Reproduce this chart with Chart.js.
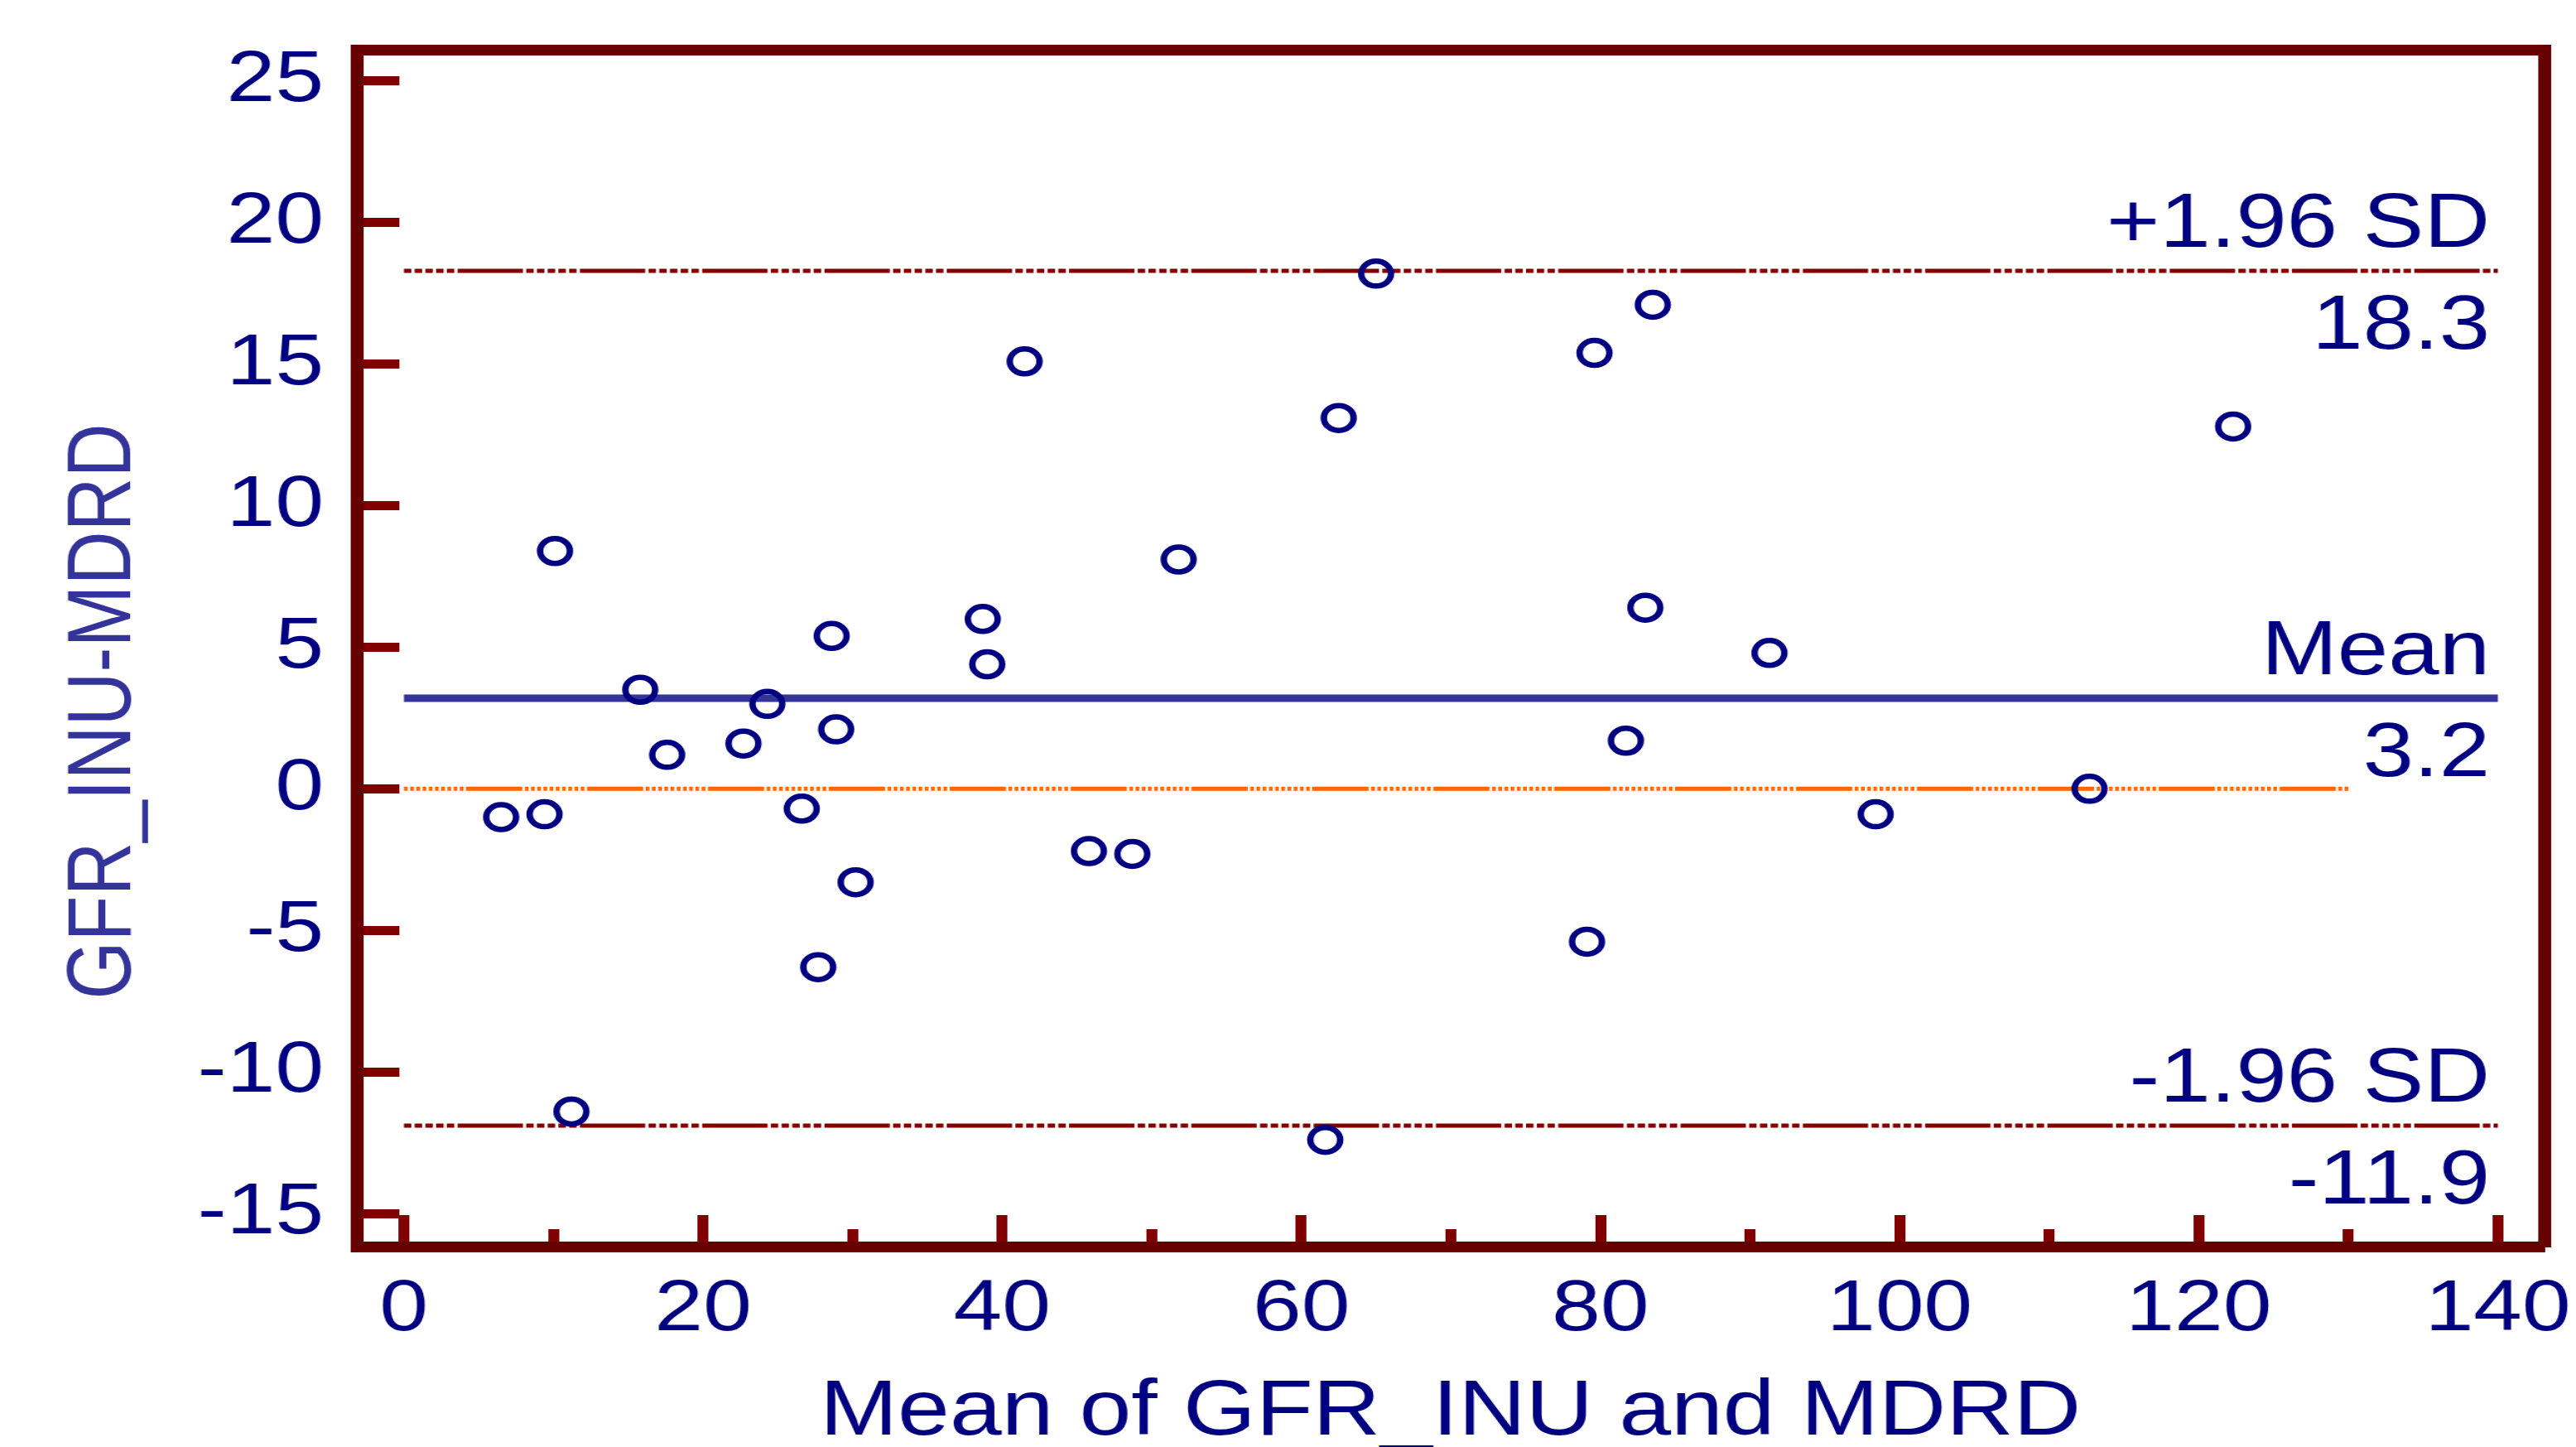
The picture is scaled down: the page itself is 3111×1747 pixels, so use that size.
<!DOCTYPE html>
<html><head><meta charset="utf-8">
<script src="https://cdn.jsdelivr.net/npm/chart.js@4/dist/chart.umd.min.js"></script>
<style>
html,body{margin:0;padding:0;background:#fff;overflow:hidden}
</style></head><body>
<canvas id="c" width="2593" height="1747" style="display:block;width:3111px;height:1747px"></canvas>
<script>
// ---- data ----
const meanValues = [6.5, 9.4, 10.1, 11.2, 15.8, 17.6, 22.7, 24.3, 26.6, 27.7, 28.6, 28.9, 30.2, 38.7, 39.0, 41.5, 45.8, 48.7, 51.8, 61.6, 62.5, 65.0, 79.1, 79.6, 81.7, 83.0, 83.5, 91.3, 98.4, 112.7, 122.3];
const diffValues = [-1.0, -0.9, 8.4, -11.4, 3.5, 1.2, 1.6, 3.0, -0.7, -6.3, 5.4, 2.1, -3.3, 6.0, 4.4, 15.1, -2.2, -2.3, 8.1, -12.4, 13.1, 18.2, -5.4, 15.4, 1.7, 6.4, 17.1, 4.8, -0.9, 0.0, 12.8];
const refNames = ['+1.96 SD', 'Mean', '-1.96 SD'];
const refValues = [18.3, 3.2, -11.9];
const refSpan = [0, 140];
const zeroSpan = [0, 130];
const xTickLabels = ['0', '20', '40', '60', '80', '100', '120', '140'];
const yTickLabels = ['-15', '-10', '-5', '0', '5', '10', '15', '20', '25'];
const xTitle = 'Mean of GFR_INU and MDRD';
const yTitle = 'GFR_INU-MDRD';

// ---- styling / layout ----
const FONT = '"Liberation Sans", Arial, Helvetica, sans-serif';
const NAVY = '#000080';
const FRAME = '#660000';
const TICK = '#800000';
const W = 2593, H = 1747;
const AREA_LEFT = 359, AREA_RIGHT = 2561, AREA_TOP = 60, AREA_BOTTOM = 1505, PAD_BOTTOM = 29;
const YTITLE_SIZE = 90, YTITLE_PAD = 52;
const YTITLE_BOX = YTITLE_SIZE * 1.2 + YTITLE_PAD;

const sdDash = [7.5,3.3,7.5,3.3,7.5,3.3,7.5,3.3,7.5,3.3,65.8,3.3];
const zeroDash = [3.75,2.5,3.75,2.5,3.75,2.5,3.75,2.5,3.75,2.5,3.75,2.5,3.75,2.5,3.75,2.5,3.75,2.5,3.75,2.5,56.7,2.5];

const lineColors = ['#800000', '#333399', '#800000'];
const lineWidths = [5, 9, 5];
const lineDashes = [sdDash, [], sdDash];

const datasets = [{
  type: 'scatter',
  label: 'differences',
  data: meanValues.map((m, i) => ({x: m, y: diffValues[i]})),
  pointStyle: 'circle',
  pointRadius: 15,
  pointHoverRadius: 15,
  pointBorderWidth: 6.5,
  borderColor: NAVY,
  backgroundColor: 'rgba(0,0,0,0)',
  order: 0
}];
refValues.forEach((v, i) => {
  datasets.push({
    type: 'line', label: refNames[i],
    data: refSpan.map(x => ({x, y: v})),
    borderColor: lineColors[i], borderWidth: lineWidths[i], borderDash: lineDashes[i],
    pointRadius: 0, fill: false, order: 2
  });
});
datasets.push({
  type: 'line', label: 'zero',
  data: zeroSpan.map(x => ({x, y: 0})),
  borderColor: '#FF6600', borderWidth: 5, borderDash: zeroDash,
  pointRadius: 0, fill: false, order: 3
});

const refLabelPlugin = {
  id: 'refLabels',
  afterDatasetsDraw(chart) {
    const {ctx, scales: {x, y}} = chart;
    ctx.save();
    ctx.font = '92px ' + FONT;
    ctx.fillStyle = NAVY;
    ctx.textAlign = 'right';
    ctx.textBaseline = 'alphabetic';
    const xr = x.getPixelForValue(refSpan[1]) - 8;
    refValues.forEach((v, i) => {
      const py = y.getPixelForValue(v);
      ctx.fillText(refNames[i], xr, py - 29);
      ctx.fillText(v.toFixed(1), xr, py + 94);
    });
    ctx.restore();
  }
};

function noPad(s) { s.paddingLeft = 0; s.paddingRight = 0; s.paddingTop = 0; s.paddingBottom = 0; }

const hiddenAxis = (pos, size) => ({
  type: 'linear', position: pos, display: true,
  min: 0, max: 1,
  ticks: {display: false},
  grid: {drawOnChartArea: false, drawTicks: false},
  border: {display: true, color: FRAME, width: 13},
  afterFit: (s) => { if (pos === 'top') s.height = size; else s.width = size; noPad(s); }
});

new Chart(document.getElementById('c'), {
  type: 'scatter',
  data: {datasets},
  plugins: [refLabelPlugin],
  options: {
    responsive: false,
    animation: false,
    devicePixelRatio: 1,
    layout: {padding: {left: 0, right: 0, top: 0, bottom: PAD_BOTTOM}},
    plugins: {
      legend: {display: false},
      tooltip: {enabled: false},
      title: {
        display: true, position: 'left', text: yTitle, color: '#333399',
        font: {family: FONT, size: YTITLE_SIZE, weight: 'normal', lineHeight: 1.2},
        padding: {top: YTITLE_PAD, bottom: 0}
      }
    },
    scales: {
      x: {
        type: 'linear', position: 'bottom',
        min: -3.16, max: 143.1,
        ticks: {
          stepSize: 10, includeBounds: false, autoSkip: false, maxRotation: 0, minRotation: 0,
          padding: 62, color: NAVY, font: {family: FONT, size: 88},
          callback: (v) => { const s = String(v); return xTickLabels.includes(s) ? s : ''; }
        },
        grid: {
          drawOnChartArea: false, drawTicks: true, tickLength: -38, tickWidth: 11, tickColor: TICK,
          tickBorderDash: (c) => (c.tick && xTickLabels.includes(String(c.tick.value))) ? [] : [28, 1000]
        },
        border: {display: true, color: FRAME, width: 13},
        title: {display: true, text: xTitle, color: NAVY,
          font: {family: FONT, size: 94, lineHeight: 0.25}, padding: {top: 0, bottom: 0}},
        afterFit: (s) => { s.height = H - PAD_BOTTOM - AREA_BOTTOM; noPad(s); }
      },
      y: {
        type: 'linear', position: 'left',
        min: -16.17, max: 26.11,
        ticks: {
          stepSize: 5, includeBounds: false, autoSkip: false,
          padding: 76, color: NAVY, font: {family: FONT, size: 88},
          callback: (v) => { const s = String(v); return yTickLabels.includes(s) ? s : ''; }
        },
        grid: {drawOnChartArea: false, drawTicks: true, tickLength: -43, tickWidth: 11, tickColor: TICK},
        border: {display: true, color: FRAME, width: 13},
        afterFit: (s) => { s.width = AREA_LEFT - YTITLE_BOX; noPad(s); }
      },
      xTop: hiddenAxis('top', AREA_TOP),
      yRight: hiddenAxis('right', W - AREA_RIGHT)
    }
  }
});
</script>
</body></html>
